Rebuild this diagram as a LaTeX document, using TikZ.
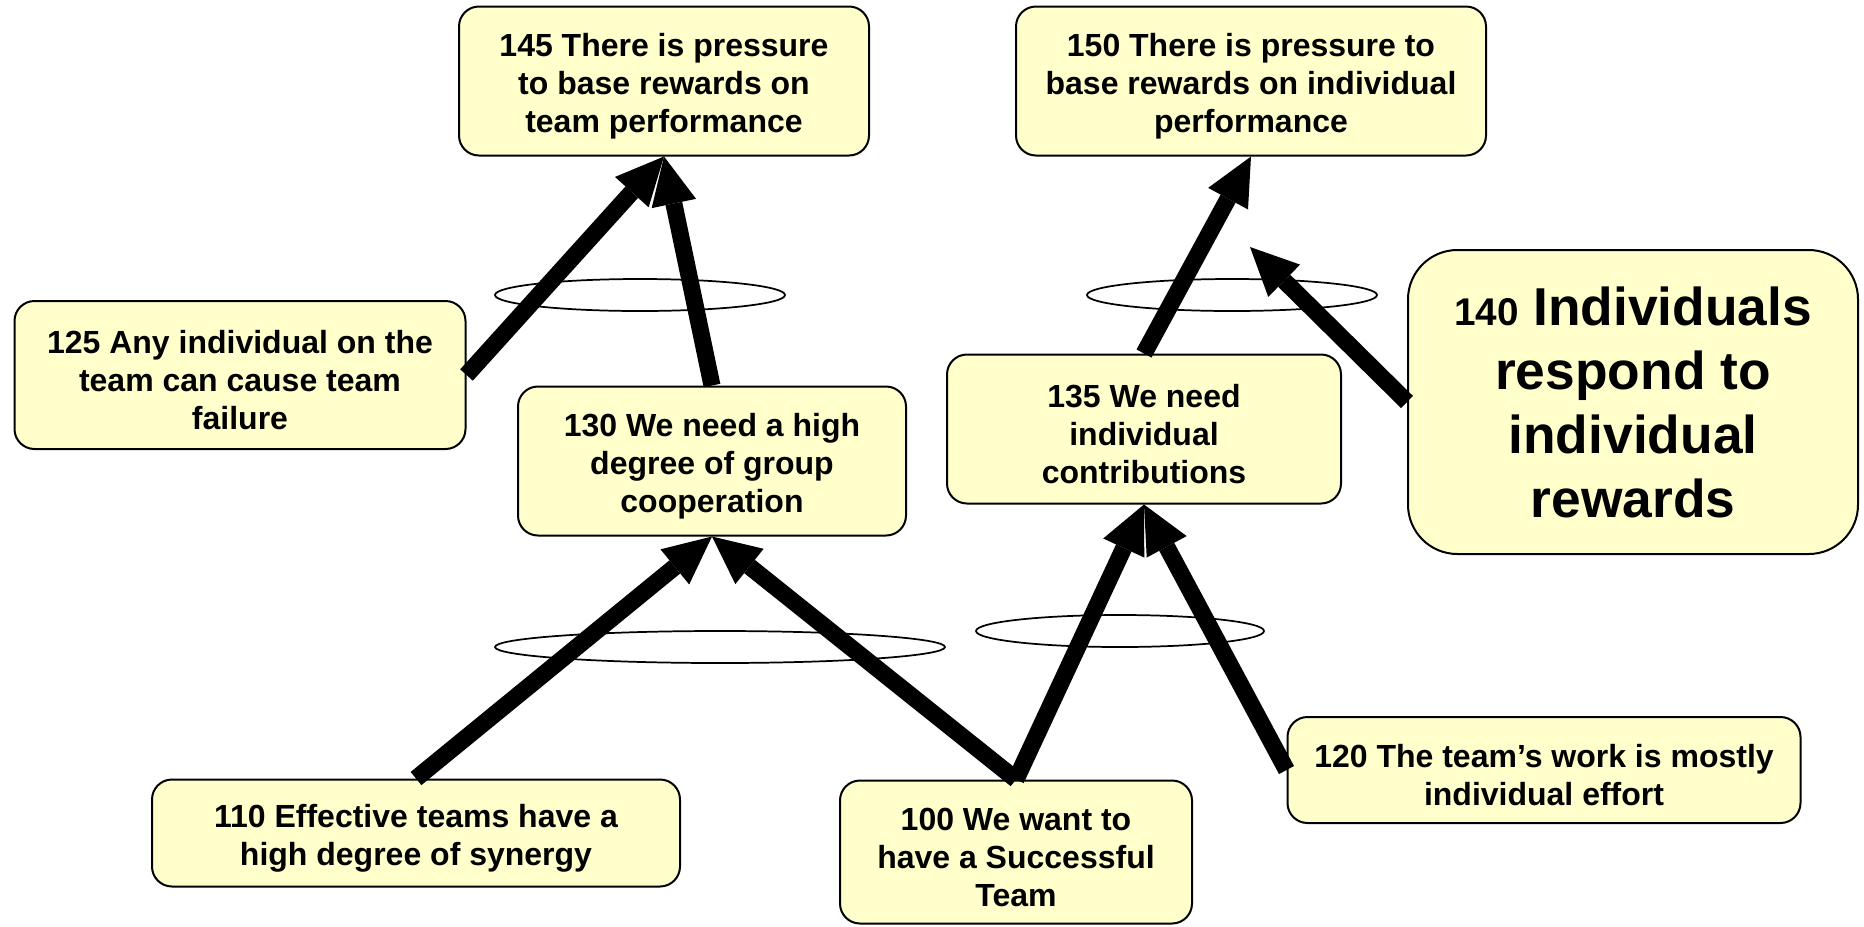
\documentclass[tikz,border=0pt]{standalone}
\usepackage{fontspec}
\setmainfont{Liberation Sans}
\usetikzlibrary{arrows.meta}
\definecolor{boxfill}{HTML}{FFFFCC}
\newcommand\liftline{\rule{0pt}{25pt}}
\begin{document}
\begin{tikzpicture}[x=0.75pt,y=-0.75pt,
  box/.style={draw=black, line width=1.5pt, fill=boxfill, rounded corners=15pt, align=center, inner sep=0pt,
    font=\fontsize{24}{28.3}\selectfont\bfseries},
  andring/.style={draw=black, line width=1.3pt},
  causal/.style={line width=12.75pt, line cap=butt, -{Triangle[length=36pt,width=34pt,line width=0pt]}}]
\useasboundingbox (0,0) rectangle (1864,926);

% AND ellipses
\draw[andring] (640,295) ellipse [x radius=108.75pt, y radius=12pt];
\draw[andring] (1232,295) ellipse [x radius=108.75pt, y radius=12pt];
\draw[andring] (720,647) ellipse [x radius=168.75pt, y radius=12pt];
\draw[andring] (1120,631) ellipse [x radius=108pt, y radius=12pt];

% boxes
\node[box, minimum width=307.5pt, minimum height=111.75pt] (n145) at (664,81)
  {\liftline 145 There is pressure\\to base rewards on\\team performance};
\node[box, minimum width=352.5pt, minimum height=111.75pt] (n150) at (1251,81)
  {\liftline 150 There is pressure to\\base rewards on individual\\performance};
\node[box, minimum width=338.25pt, minimum height=111pt] (n125) at (240,375)
  {\liftline 125 Any individual on the\\team can cause team\\failure};
\node[box, minimum width=291pt, minimum height=111.75pt] (n130) at (712,461)
  {\liftline 130 We need a high\\degree of group\\cooperation};
\node[box, minimum width=295.5pt, minimum height=111.75pt] (n135) at (1144,429)
  {\liftline 135 We need\\individual\\contributions};
\node[box, rounded corners=37pt, minimum width=337.5pt, minimum height=228pt,
  font=\fontsize{40}{48}\selectfont\bfseries] (n140) at (1633,402)
  {{\fontsize{29}{48}\selectfont 140} Individuals\\respond to\\individual\\rewards};
\node[box, minimum width=396pt, minimum height=80.25pt] (n110) at (416,833)
  {\liftline 110 Effective teams have a\\high degree of synergy};
\node[box, minimum width=264pt, minimum height=107.25pt] (n100) at (1016,852)
  {\liftline 100 We want to\\have a Successful\\Team};
\node[box, minimum width=384.75pt, minimum height=79.5pt] (n120) at (1544,770)
  {\liftline 120 The team’s work is mostly\\individual effort};

\coordinate (c140) at (1250,247);

% causal arrows
\draw[causal] (n125.east) -- (n145.south);
\draw[causal] (n130.north) -- (n145.south);
\draw[causal] (n135.north) -- (n150.south);
\draw[causal] (n140.west) -- (c140);
\draw[causal] (n110.north) -- (n130.south);
\draw[causal] (n100.north) -- (n130.south);
\draw[causal] (n100.north) -- (n135.south);
\draw[causal] (n120.west) -- (n135.south);
\end{tikzpicture}
\end{document}
